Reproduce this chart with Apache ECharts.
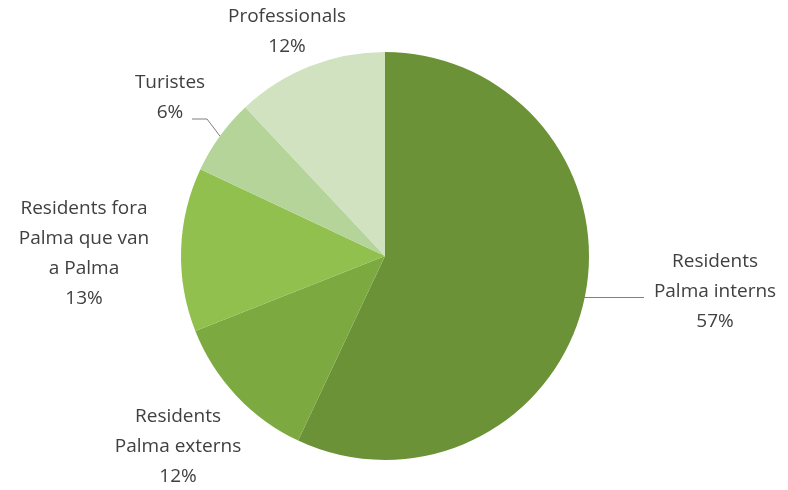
<!DOCTYPE html>
<html><head><meta charset="utf-8">
<script src="https://cdn.jsdelivr.net/npm/echarts@6/dist/echarts.min.js"></script>
<style>html,body{margin:0;padding:0;background:#fff}#c{width:788px;height:490px}</style>
</head><body><div id="c"></div>
<script>
const categories = ["Residents\nPalma interns", "Residents\nPalma externs", "Residents fora\nPalma que van\na Palma", "Turistes", "Professionals"];
const values = [57, 12, 13, 6, 12];
const colors = ["#6b9237", "#7caa40", "#92c04f", "#b5d49a", "#d0e2bf"];
const labelPos = [[715, 292], [178, 447], [84, 254], [170, 98], [287, 32]];
const showLine = [true, false, false, true, false];

const chart = echarts.init(document.getElementById('c'), null, {renderer: 'canvas'});
chart.setOption({
  animation: false,
  series: [{
    type: 'pie',
    center: [385, 256],
    radius: 204,
    startAngle: 90,
    clockwise: true,
    avoidLabelOverlap: false,
    itemStyle: {borderWidth: 0},
    label: {
      show: true,
      formatter: '{b}\n{d}%',
      fontFamily: 'Open Sans',
      fontSize: 19,
      lineHeight: 30,
      color: '#404040',
      align: 'center'
    },
    labelLine: {show: true, lineStyle: {color: '#7f7f7f', width: 1}},
    labelLayout: function (params) {
      const i = params.dataIndex;
      const p = labelPos[i];
      const res = {x: p[0], y: p[1], align: 'center', verticalAlign: 'middle'};
      const pts = params.labelLinePoints;
      if (pts && showLine[i]) {
        const a = pts[0];
        const lr = params.labelRect;
        if (i === 0) {
          res.labelLinePoints = [[a[0], a[1] - 3], [644, a[1] - 3], [644, a[1] - 3]];
        } else if (i === 3) {
          res.labelLinePoints = [[a[0], a[1]], [207, 119], [192, 119]];
        }
      }
      return res;
    },
    data: categories.map((c, i) => ({
      name: c, value: values[i],
      itemStyle: {color: colors[i]},
      labelLine: {show: showLine[i]}
    }))
  }]
});
</script></body></html>
